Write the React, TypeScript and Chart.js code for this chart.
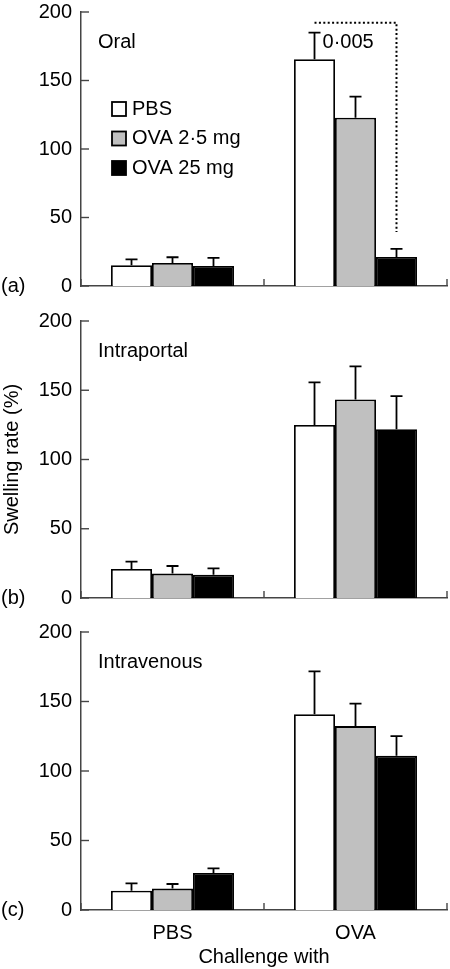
import React, { useEffect, useRef } from "react";
import { Chart, registerables } from "chart.js";

Chart.register(...registerables);

// ---------- data ----------
const categories = ["PBS", "OVA"];
const seriesLabels = ["PBS", "OVA 2·5 mg", "OVA 25 mg"];
const seriesColors = ["#ffffff", "#c0c0c0", "#000000"];
const yTickValues = [0, 50, 100, 150, 200];
const panelTitles = ["Oral", "Intraportal", "Intravenous"];
const panelLetters = ["(a)", "(b)", "(c)"];
const yAxisTitle = "Swelling rate (%)";
const xAxisTitle = "Challenge with";

// (a) Oral
const oralPbs = [15.1, 165.6];
const oralOva2_5 = [16.8, 122.9];
const oralOva25 = [14.6, 21.2];
const oralPbsErr = [4.4, 19.3];
const oralOva2_5Err = [4.2, 15.4];
const oralOva25Err = [5.9, 5.9];

// (b) Intraportal
const portalPbs = [20.9, 124.9];
const portalOva2_5 = [17.6, 143.4];
const portalOva25 = [16.8, 121.8];
const portalPbsErr = [5.3, 30.8];
const portalOva2_5Err = [5.5, 23.9];
const portalOva25Err = [4.6, 24.0];

// (c) Intravenous
const venousPbs = [13.9, 140.9];
const venousOva2_5 = [15.4, 132.3];
const venousOva25 = [26.7, 110.9];
const venousPbsErr = [5.3, 30.8];
const venousOva2_5Err = [3.3, 16.1];
const venousOva25Err = [3.3, 14.2];

// significance bracket in panel (a)
const sigBracketTop = 192.2;
const sigBracketBottom = 39.4;
const sigLabel = "0·005";
const sigLabelValue = 178;

const FONT = "'Liberation Sans', Arial, Helvetica, sans-serif";
const FS = 20;

type PanelProps = {
  idx: number;
  top: number;
  height: number;
  padTop: number;
  xAxisHeight: number;
  means: number[][];
  errs: number[][];
  showLegend?: boolean;
  showXLabels?: boolean;
  showYTitle?: boolean;
  showBracket?: boolean;
};

function Panel(p: PanelProps) {
  const ref = useRef<HTMLCanvasElement>(null);

  useEffect(() => {
    const canvas = ref.current;
    if (!canvas) return;

    const decor = {
      id: "decor",
      afterDatasetsDraw(chart: any) {
        const ctx = chart.ctx as CanvasRenderingContext2D;
        const ys = chart.scales.y;
        const xs = chart.scales.x;
        const area = chart.chartArea;
        ctx.save();

        // error bars (upward only)
        chart.data.datasets.forEach((ds: any, di: number) => {
          const meta = chart.getDatasetMeta(di);
          meta.data.forEach((bar: any, i: number) => {
            const v = ds.data[i] as number;
            const e = p.errs[di][i];
            const y0 = ys.getPixelForValue(v);
            const y1 = ys.getPixelForValue(v + e);
            ctx.strokeStyle = "#000";
            ctx.lineWidth = 1.8;
            ctx.setLineDash([]);
            ctx.beginPath();
            ctx.moveTo(bar.x, y0);
            ctx.lineTo(bar.x, y1);
            ctx.moveTo(bar.x - 6, y1);
            ctx.lineTo(bar.x + 6, y1);
            ctx.stroke();
          });
        });

        // inward ticks on y axis
        ctx.strokeStyle = "#444";
        ctx.lineWidth = 1.4;
        yTickValues.forEach((t) => {
          const y = ys.getPixelForValue(t);
          ctx.beginPath();
          ctx.moveTo(area.left, y);
          ctx.lineTo(area.left + 8, y);
          ctx.stroke();
        });
        // category boundary ticks on x axis
        const c0 = xs.getPixelForValue(0);
        const c1 = xs.getPixelForValue(1);
        const half = (c1 - c0) / 2;
        [c0 - half, c0 + half, c1 + half].forEach((bx) => {
          ctx.beginPath();
          ctx.moveTo(bx, area.bottom);
          ctx.lineTo(bx, area.bottom - 7);
          ctx.stroke();
        });

        // texts
        ctx.fillStyle = "#000";
        ctx.font = `${FS}px ${FONT}`;
        ctx.textBaseline = "middle";
        ctx.textAlign = "left";
        ctx.fillText(panelTitles[p.idx], area.left + 17, area.top + 30);
        ctx.fillText(panelLetters[p.idx], 1, area.bottom);

        // legend
        if (p.showLegend) {
          seriesLabels.forEach((lab, i) => {
            const cy = area.top + 97 + i * 29.5;
            const bx = area.left + 31;
            ctx.fillStyle = seriesColors[i];
            ctx.fillRect(bx, cy - 7, 14, 14);
            ctx.strokeStyle = "#000";
            ctx.lineWidth = 1.8;
            ctx.strokeRect(bx, cy - 7, 14, 14);
            ctx.fillStyle = "#000";
            ctx.fillText(lab, bx + 20, cy);
          });
        }

        // significance bracket
        if (p.showBracket) {
          const xl = chart.getDatasetMeta(0).data[1].x;
          const xr = chart.getDatasetMeta(2).data[1].x;
          const yt = ys.getPixelForValue(sigBracketTop);
          const yb = ys.getPixelForValue(sigBracketBottom);
          ctx.strokeStyle = "#000";
          ctx.lineWidth = 2;
          ctx.setLineDash([2, 2.4]);
          ctx.beginPath();
          ctx.moveTo(xl, yt);
          ctx.lineTo(xr, yt);
          ctx.lineTo(xr, yb);
          ctx.stroke();
          ctx.setLineDash([]);
          ctx.fillText(sigLabel, xl + 8, ys.getPixelForValue(sigLabelValue));
        }
        ctx.restore();
      },
    };

    const chart = new Chart(canvas, {
      type: "bar",
      data: {
        labels: categories,
        datasets: p.means.map((m, i) => ({
          label: seriesLabels[i],
          data: m,
          backgroundColor: seriesColors[i],
          borderColor: "#000",
          borderWidth: 1.8,
          borderSkipped: "bottom",
          categoryPercentage: 0.672,
          barPercentage: 1.0,
        })),
      },
      options: {
        animation: false,
        responsive: false,
        devicePixelRatio: 1,
        layout: { padding: { left: 0, right: 3, top: p.padTop, bottom: 0 } },
        plugins: { legend: { display: false }, tooltip: { enabled: false } },
        scales: {
          x: {
            type: "category",
            offset: true,
            grid: { display: false, drawTicks: false },
            border: { display: true, color: "#444", width: 1.5 },
            ticks: {
              display: !!p.showXLabels,
              color: "#000",
              font: { family: FONT, size: FS },
              padding: 11,
              maxRotation: 0,
            },
            title: {
              display: !!p.showXLabels,
              text: xAxisTitle,
              color: "#000",
              font: { family: FONT, size: FS },
              padding: { top: 0, bottom: 0 },
            },
            afterFit: (s: any) => {
              s.height = p.xAxisHeight;
              s.paddingLeft = 0;
              s.paddingRight = 0;
            },
          },
          y: {
            min: 0,
            max: 200,
            grid: { display: false, drawTicks: false },
            border: { display: true, color: "#444", width: 1.5 },
            ticks: {
              stepSize: 50,
              color: "#000",
              font: { family: FONT, size: FS },
              padding: 9,
            },
            title: {
              display: !!p.showYTitle,
              text: yAxisTitle,
              color: "#000",
              font: { family: FONT, size: FS },
              padding: { top: 0, bottom: 0 },
            },
            afterFit: (s: any) => {
              s.width = 81;
              s.paddingTop = 0;
              s.paddingBottom = 0;
            },
          },
        },
      },
      plugins: [decor],
    } as any);

    return () => chart.destroy();
  }, []);

  return (
    <canvas
      ref={ref}
      width={450}
      height={p.height}
      style={{ position: "absolute", left: 0, top: p.top, width: 450, height: p.height, display: "block" }}
    />
  );
}

export default function App() {
  return (
    <div style={{ position: "absolute", left: 0, top: 0, width: 450, height: 969, background: "#fff" }}>
      <Panel
        idx={0}
        top={0}
        height={310}
        padTop={12}
        xAxisHeight={24}
        means={[oralPbs, oralOva2_5, oralOva25]}
        errs={[oralPbsErr, oralOva2_5Err, oralOva25Err]}
        showLegend
        showBracket
      />
      <Panel
        idx={1}
        top={310}
        height={310}
        padTop={11}
        xAxisHeight={22}
        means={[portalPbs, portalOva2_5, portalOva25]}
        errs={[portalPbsErr, portalOva2_5Err, portalOva25Err]}
        showYTitle
      />
      <Panel
        idx={2}
        top={620}
        height={349}
        padTop={12}
        xAxisHeight={59}
        means={[venousPbs, venousOva2_5, venousOva25]}
        errs={[venousPbsErr, venousOva2_5Err, venousOva25Err]}
        showXLabels
      />
    </div>
  );
}
